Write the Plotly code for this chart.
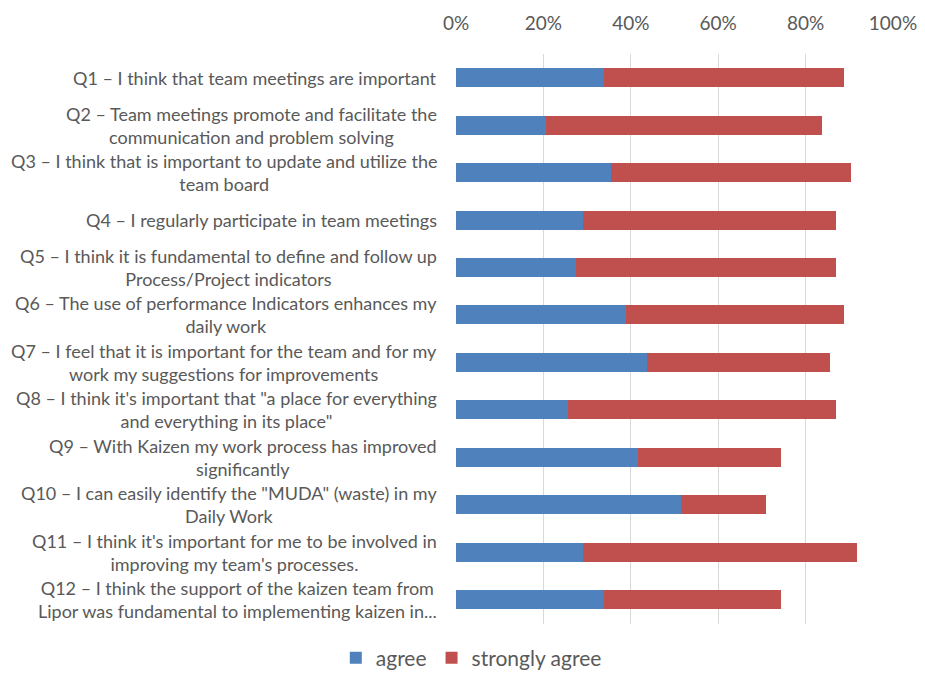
import plotly.graph_objects as go

categories = ["Q1", "Q2", "Q3", "Q4", "Q5", "Q6", "Q7", "Q8", "Q9", "Q10", "Q11", "Q12"]
labels = [
    "Q1 – I think that team meetings are important",
    "Q2 – Team meetings promote and facilitate the<br>communication and problem solving",
    "Q3 – I think that is important to update and utilize the<br>team board",
    "Q4 – I regularly participate in team meetings",
    "Q5 – I think it is fundamental to define and follow up<br>Process/Project indicators",
    "Q6 – The use of performance Indicators enhances my<br>daily work",
    "Q7 – I feel that it is important for the team and for my<br>work my suggestions for improvements",
    "Q8 – I think it's important that \"a place for everything<br>and everything in its place\"",
    "Q9 – With Kaizen my work process has improved<br>significantly",
    "Q10 – I can easily identify the \"MUDA\" (waste) in my<br>Daily Work",
    "Q11 – I think it's important for me to be involved in<br>improving my team's processes.",
    "Q12 – I think the support of the kaizen team from<br>Lipor was fundamental to implementing kaizen in...",
]
agree = [0.338, 0.207, 0.355, 0.290, 0.275, 0.388, 0.437, 0.256, 0.417, 0.516, 0.290, 0.338]
strongly_agree = [0.549, 0.630, 0.550, 0.580, 0.595, 0.499, 0.420, 0.614, 0.326, 0.193, 0.628, 0.405]
x_ticks = [0, 0.2, 0.4, 0.6, 0.8, 1.0]
x_tick_labels = ["0%", "20%", "40%", "60%", "80%", "100%"]

BLUE = "#4F81BD"
RED = "#C0504D"
GRAY = "#595959"
FONT = "Lato, 'Open Sans', sans-serif"

fig = go.Figure()
fig.add_trace(go.Bar(y=categories, x=agree, name="agree", orientation="h",
                     marker=dict(color=BLUE, line=dict(width=0))))
fig.add_trace(go.Bar(y=categories, x=strongly_agree, name="strongly agree", orientation="h",
                     marker=dict(color=RED, line=dict(width=0))))

for cat, lab in zip(categories, labels):
    fig.add_annotation(x=-0.04, xref="paper", y=cat, yref="y", text=lab,
                       xanchor="right", yanchor="middle", align="center", showarrow=False,
                       font=dict(family=FONT, size=18, color=GRAY))

# page body has an 8px default margin, so the figure is 8px smaller
W, H = 917, 665
fig.update_layout(
    width=W, height=H,
    margin=dict(l=448, r=32, t=46, b=49, pad=0, autoexpand=False),
    barmode="stack", bargap=0.6,
    plot_bgcolor="white", paper_bgcolor="white",
    font=dict(family=FONT, color=GRAY),
    showlegend=True,
    legend=dict(orientation="h", x=0.035, xanchor="center", y=-0.06, yanchor="middle",
                font=dict(size=21, color=GRAY), traceorder="normal",
                itemsizing="constant", itemwidth=30),
    xaxis=dict(side="top", range=[0, 1.0001], tickvals=x_ticks, ticktext=x_tick_labels,
               showgrid=True, gridcolor="#D9D9D9", gridwidth=1, zeroline=False,
               showline=False, ticks="", tickfont=dict(size=19, color=GRAY),
               ticklabelstandoff=19, automargin=False, fixedrange=True),
    yaxis=dict(autorange="reversed", showticklabels=False, showgrid=False, zeroline=False,
               showline=False, ticks="", automargin=False, fixedrange=True),
)

fig.write_html("out.html")
